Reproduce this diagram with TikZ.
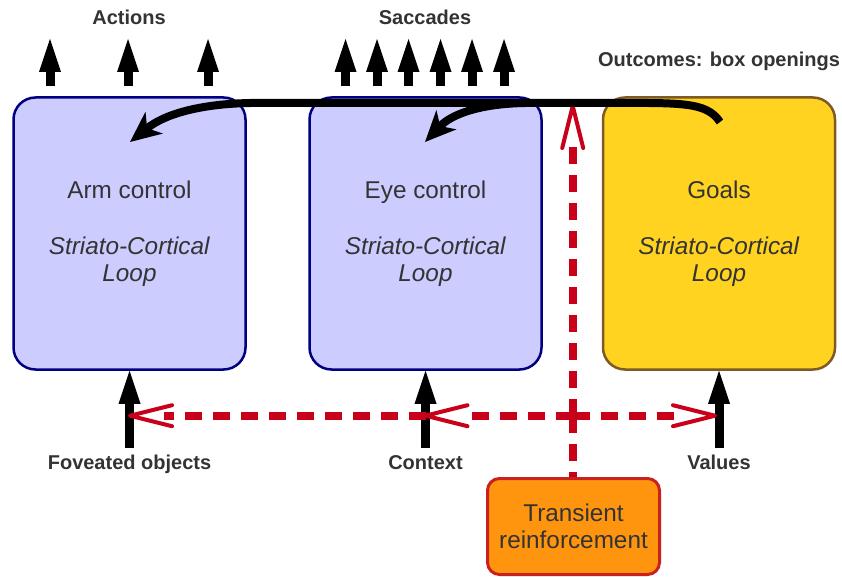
\documentclass[tikz,border=0pt]{standalone}
\usepackage{fontspec}
\setmainfont{Liberation Sans}
\usetikzlibrary{arrows.meta,calc}
\definecolor{txt}{HTML}{333333}
\definecolor{armfill}{HTML}{CCCCFF}
\definecolor{armline}{HTML}{000080}
\definecolor{goalfill}{HTML}{FFD320}
\definecolor{goalline}{HTML}{7F5A24}
\definecolor{trfill}{HTML}{FF950E}
\definecolor{trline}{HTML}{C9211E}
\definecolor{rdred}{HTML}{C9001A}
\begin{document}
\begin{tikzpicture}[x=1pt,y=-1pt,
  loopbox/.style={draw, line width=2.5pt, rounded corners=22pt,
    minimum width=232pt, minimum height=272pt, align=center, text=txt,
    font=\fontsize{24.3}{27}\selectfont, inner sep=0pt},
  trbox/.style={draw=trline, fill=trfill, line width=3pt, rounded corners=12pt,
    minimum width=172pt, minimum height=96pt, align=center, text=txt,
    font=\fontsize{24.3}{27}\selectfont, inner sep=0pt},
  lbl/.style={text=txt, font=\fontsize{20}{24}\selectfont\bfseries, anchor=base, inner sep=0pt},
  bigarrow/.style={line width=9pt, -{Triangle[length=33pt,width=22pt,line width=0pt]}},
  loopline/.style={line width=8pt},
  looptip/.style={-{Stealth[length=31pt,width=28pt,inset=9pt,line width=0pt]}},
  rdash/.style={draw=rdred, line width=8pt, dash pattern=on 17pt off 11pt},
  pics/vbarb/.style={code={
    \draw[rdred, line width=4pt, line cap=round, line join=round]
      (42,-10.5) -- (0,0) -- (42,10.5);}},
]
\useasboundingbox (0,0) rectangle (842,577);

% the three striato-cortical loops
\node[loopbox, fill=armfill, draw=armline] (arm) at (129.5,233.5)
  {Arm control\\[29pt]\textit{Striato-Cortical}\\\textit{Loop}};
\node[loopbox, fill=armfill, draw=armline] (eye) at (425.5,233.5)
  {Eye control\\[29pt]\textit{Striato-Cortical}\\\textit{Loop}};
\node[loopbox, fill=goalfill, draw=goalline] (goals) at (719,233.5)
  {Goals\\[29pt]\textit{Striato-Cortical}\\\textit{Loop}};
\node[trbox] (trans) at (573.5,526.5) {Transient\\reinforcement};

% labels
\node[lbl] (actions) at (129,25) {Actions};
\node[lbl] (saccades) at (425,25) {Saccades};
\node[lbl] (outcomes) at (719,67) {Outcomes: box openings};
\node[lbl] (fov) at (129.5,469) {Foveated objects};
\node[lbl] (context) at (425.5,469) {Context};
\node[lbl] (values) at (719,469) {Values};

% outputs
\foreach \xx in {50,128,208}
  \draw[bigarrow] (\xx,86) -- (\xx,39);
\foreach \xx in {345.5,377,408.5,440.5,472,504}
  \draw[bigarrow] (\xx,86) -- (\xx,39);

% inputs
\draw[bigarrow] (fov.north |- 0,448) -- (arm.south);
\draw[bigarrow] (context.north |- 0,448) -- (eye.south);
\draw[bigarrow] (values.north |- 0,448) -- (goals.south);

% reinforcement signal
\coordinate (hub) at (572.7,415.7);
\coordinate (vtip) at (572.7,106);
\coordinate (midtip) at (425.5,415.7);
\coordinate (fovtip) at (130,415.7);
\coordinate (valtip) at (715,415.7);
\draw[rdash] (hub) -- (trans.north -| hub);
\draw[rdash] (hub) -- ([yshift=-40pt]vtip);
\draw[rdash] (hub) -- ([xshift=40pt]midtip);
\draw[rdash] (midtip) -- ([xshift=34pt]fovtip);
\draw[rdash] (hub) -- ([xshift=-40pt]valtip);
\pic[rotate=-90] at (vtip) {vbarb};
\pic at (midtip) {vbarb};
\pic at (fovtip) {vbarb};
\pic[rotate=180] at (valtip) {vbarb};

% goal signal to the motor loops
\coordinate (gstart) at (720,122);
\coordinate (armtip) at (130,142);
\coordinate (eyetip) at (425,142);
\draw[loopline, looptip] (gstart) .. controls (706,101) and (680,103) .. (600,103)
  -- (250,103) .. controls (200,104) and (165,114) .. (armtip);
\draw[loopline, looptip] (525,103) .. controls (475,104) and (450,116) .. (eyetip);
\end{tikzpicture}
\end{document}
